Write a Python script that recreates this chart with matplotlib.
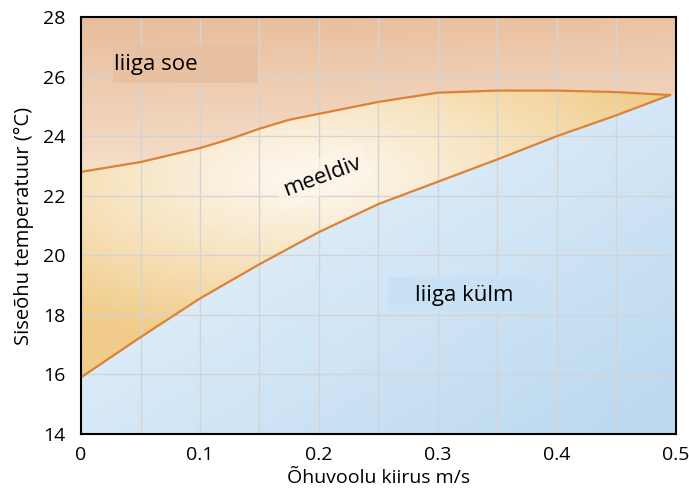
import numpy as np
import matplotlib
matplotlib.use("Agg")
import matplotlib.pyplot as plt
from matplotlib.patches import Rectangle
from matplotlib.colors import to_rgb

plt.rcParams['font.family'] = ['Open Sans', 'DejaVu Sans']

# kõvera punktid (loetud jooniselt)
speed_upper = [0.0, 0.05, 0.1, 0.125, 0.15, 0.175, 0.2, 0.25, 0.3, 0.35, 0.4, 0.45, 0.495]
temp_upper = [22.8, 23.13, 23.6, 23.9, 24.25, 24.55, 24.75, 25.15, 25.46, 25.53, 25.53, 25.48, 25.38]

speed_lower = [0.0, 0.05, 0.1, 0.15, 0.2, 0.25, 0.3, 0.35, 0.4, 0.45, 0.495]
temp_lower = [15.9, 17.25, 18.55, 19.7, 20.78, 21.72, 22.47, 23.22, 24.0, 24.7, 25.38]

xticks = [0, 0.1, 0.2, 0.3, 0.4, 0.5]
xticklabels = ["0", "0.1", "0.2", "0.3", "0.4", "0.5"]
yticks = [14, 16, 18, 20, 22, 24, 26, 28]

xmin, xmax, ymin, ymax = 0, 0.5, 14, 28

fig = plt.figure(figsize=(6.89, 4.92), dpi=100)
ax = fig.add_axes([0.1176, 0.118, 0.8634, 0.8474])

# taustavärvid (gradiendid)
nx, ny = 700, 700
X, Y = np.meshgrid(np.linspace(xmin, xmax, nx), np.linspace(ymin, ymax, ny))
up = np.interp(X, speed_upper, temp_upper)
lo = np.interp(X, speed_lower, temp_lower)

def lerp(c1, c2, t):
    c1 = np.array(to_rgb(c1)); c2 = np.array(to_rgb(c2))
    t = np.clip(t, 0, 1)[..., None]
    return c1 + (c2 - c1) * t

# liiga soe: ülevalt tumedam
t_hot = (ymax - Y) / 5.5 + X * 0.3
hot = lerp('#e8bd9b', '#f6e0cd', t_hot)

# meeldiv: hele keskosa
d = np.sqrt(((X - 0.19) / 0.33) ** 2 + ((Y - 22.6) / 5.5) ** 2)
mid = lerp('#fdf8ef', '#f1cc8a', d ** 1.15)

# liiga külm: diagonaalne
t_cold = 0.55 * (X / 0.5) + 0.5 * ((25 - Y) / 11)
cold = lerp('#f0f7fd', '#bcd9f0', t_cold)

rgb = np.where((Y >= up)[..., None], hot, np.where((Y >= lo)[..., None], mid, cold))
ax.imshow(rgb, extent=[xmin, xmax, ymin, ymax], origin='lower', aspect='auto',
          interpolation='bilinear', zorder=0)

ax.set_xlim(xmin, xmax)
ax.set_ylim(ymin, ymax)

# ruudustik
for gx in np.arange(0.05, 0.5, 0.05):
    ax.axvline(gx, color='#d4d4d4', lw=1, zorder=1)
for gy in yticks[1:-1]:
    ax.axhline(gy, color='#d4d4d4', lw=1, zorder=1)

# kõverad
ax.plot(speed_upper, temp_upper, color='#dc8236', lw=1.6, zorder=3)
ax.plot(speed_lower, temp_lower, color='#dc8236', lw=1.6, zorder=3)

# sildid
ax.add_patch(Rectangle((0.027, 25.79), 0.122, 1.27, facecolor='#e8c0a2',
                       edgecolor='none', zorder=2))
ax.text(0.028, 26.42, "liiga soe", fontsize=16, va='center', ha='left', zorder=4)

ax.add_patch(Rectangle((0.258, 18.13), 0.127, 1.15, facecolor='#c8e1f4',
                       edgecolor='none', zorder=2))
ax.text(0.322, 18.66, "liiga külm", fontsize=16, va='center', ha='center', zorder=4)

ax.text(0.2025, 22.65, "meeldiv", fontsize=16, va='center', ha='center',
        rotation=20.5, rotation_mode='anchor', zorder=4,
        bbox=dict(boxstyle='square,pad=0.35', facecolor='#fdf6ea', edgecolor='none', alpha=0.6))

ax.set_xticks(xticks)
ax.set_xticklabels(xticklabels)
ax.set_yticks(yticks)
ax.tick_params(length=0, labelsize=14)
ax.tick_params(axis='x', pad=9)
ax.tick_params(axis='y', pad=11)
for s in ax.spines.values():
    s.set_linewidth(1.5)
    s.set_zorder(5)

ax.set_xlabel("Õhuvoolu kiirus m/s", fontsize=14, labelpad=3)
ax.set_ylabel("Siseõhu temperatuur (°C)", fontsize=14.5, labelpad=7)

fig.savefig("out.png", dpi=100)
